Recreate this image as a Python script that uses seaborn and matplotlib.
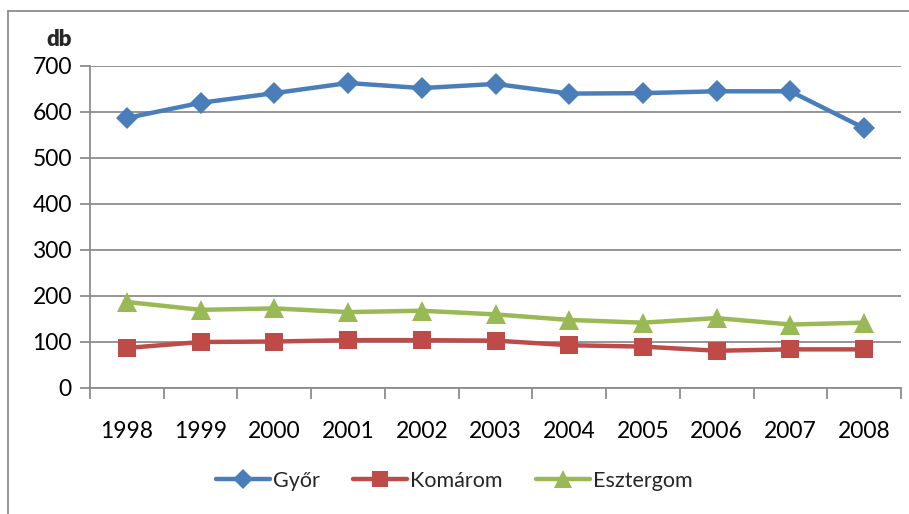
import matplotlib
matplotlib.use("Agg")
import matplotlib.pyplot as plt
import seaborn as sns
import pandas as pd
from matplotlib.lines import Line2D

years = ["1998", "1999", "2000", "2001", "2002", "2003", "2004", "2005", "2006", "2007", "2008"]
gyor = [587, 620, 641, 663, 652, 661, 640, 641, 645, 645, 565]
komarom = [87, 100, 101, 104, 104, 103, 93, 90, 81, 84, 84]
esztergom = [187, 170, 173, 165, 168, 160, 148, 142, 152, 138, 142]
series_names = ["Győr", "Komárom", "Esztergom"]
y_ticks = [0, 100, 200, 300, 400, 500, 600, 700]

sns.set_theme(style="white")
plt.rcParams["font.family"] = ["Lato", "DejaVu Sans"]

df = pd.DataFrame({"year": years * 3,
                   "value": gyor + komarom + esztergom,
                   "series": [series_names[0]] * 11 + [series_names[1]] * 11 + [series_names[2]] * 11})

W, H = 909, 514
fig = plt.figure(figsize=(W / 100, H / 100), dpi=100)
ax = fig.add_axes([90 / W, 1 - 388 / H, (901 - 90) / W, (388 - 66) / H])

colors = ["#4A7EBB", "#BE4B48", "#98B954"]
markers = ["D", "s", "^"]
msizes = [11, 13, 14]
ax.set_axisbelow(True)
for name, c, m, ms in zip(series_names, colors, markers, msizes):
    sub = df[df.series == name]
    sns.lineplot(data=sub, x="year", y="value", ax=ax, color=c, lw=3.2,
                 marker=m, markersize=ms, markeredgewidth=0, label=name, sort=False)

grid_c = "#8C8C8C"
ax.set_xlim(-0.5, len(years) - 0.5)
ax.set_ylim(0, 700)
ax.set_yticks(y_ticks)
ax.set_yticklabels([str(v) for v in y_ticks])
ax.yaxis.grid(True, color=grid_c, lw=1.3)
ax.xaxis.grid(False)
for s in ["top", "right"]:
    ax.spines[s].set_visible(False)
for s in ["left", "bottom"]:
    ax.spines[s].set_color(grid_c)
    ax.spines[s].set_linewidth(1.3)
ax.set_xticks(range(len(years)))
ax.set_xticklabels(years)
ax.set_xticks([i - 0.5 for i in range(len(years) + 1)], minor=True)
ax.tick_params(axis="x", which="major", length=0, pad=24, labelsize=16.5, labelcolor="black")
ax.tick_params(axis="x", which="minor", length=8, width=1.3, color=grid_c, direction="out", bottom=True)
ax.tick_params(axis="y", length=7, width=1.3, color=grid_c, direction="out", left=True, pad=6,
               labelsize=16.5, labelcolor="black")
ax.set_xlabel("")
ax.set_ylabel("")

fig.text(59 / W, 1 - 40 / H, "db", fontsize=16, fontweight="heavy", ha="center", va="center")

ax.legend(loc="center", bbox_to_anchor=(0.5 - 41 / (901 - 90), (388 - 481) / (388 - 66)),
          ncol=3, frameon=False, fontsize=15.5, handlelength=2.5, handletextpad=0.15,
          columnspacing=1.55, markerscale=0.9)

# outer chart border (partially visible)
fig.add_artist(Line2D([8 / W, 8 / W], [0, 1 - 11 / H], transform=fig.transFigure, color="#8C8C8C", lw=1.3))
fig.add_artist(Line2D([8 / W, 1], [1 - 11 / H, 1 - 11 / H], transform=fig.transFigure, color="#8C8C8C", lw=1.3))

fig.savefig("out.png", dpi=100)
